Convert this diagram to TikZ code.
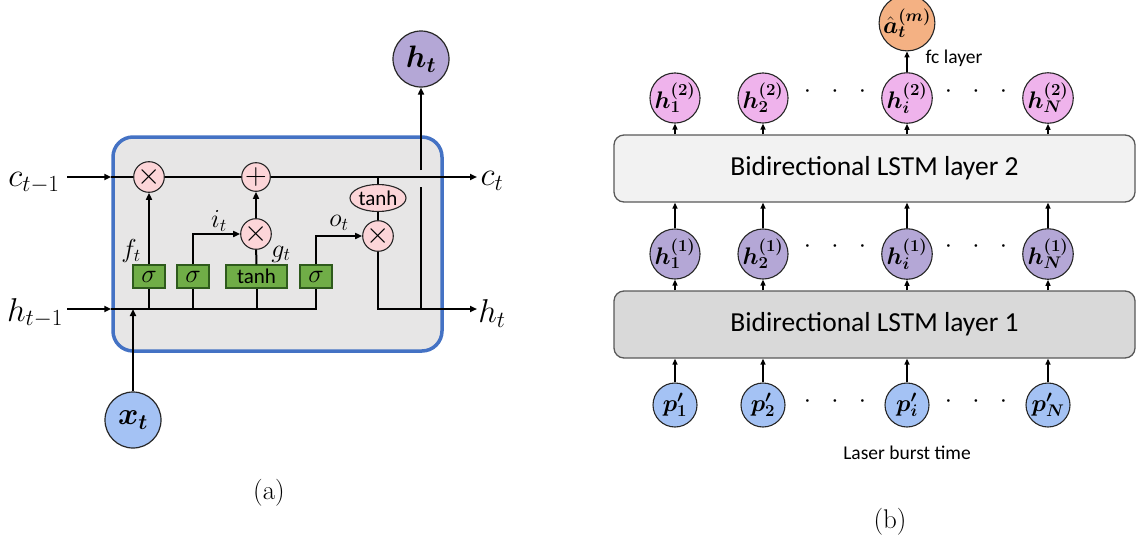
\RequirePackage{fix-cm}
\documentclass[tikz,border=0pt]{standalone}
\usepackage{fontspec}
\setsansfont{Carlito}
\usepackage{bm}
\usetikzlibrary{arrows.meta,shapes.geometric}

\definecolor{cellgray}{HTML}{E7E6E6}
\definecolor{cellblue}{HTML}{4472C4}
\definecolor{oppink}{HTML}{FCD5D8}
\definecolor{gategreen}{HTML}{70AD47}
\definecolor{gateedge}{HTML}{2E5A1C}
\definecolor{hpurple}{HTML}{B4A7D6}
\definecolor{xblue}{HTML}{A4C2F4}
\definecolor{hpink}{HTML}{EFB3EC}
\definecolor{aorange}{HTML}{F4B183}
\definecolor{layerlight}{HTML}{F2F2F2}
\definecolor{layerdark}{HTML}{D9D9D9}
\definecolor{layeredge}{HTML}{595959}

\begin{document}
\begin{tikzpicture}[x=1pt,y=-1pt,
  wire/.style={line width=2pt,draw=black},
  thinwire/.style={line width=1.4pt,draw=black},
  tip/.style={-{Triangle[length=7pt,width=6pt]}},
  smalltip/.style={-{Triangle[length=6pt,width=5pt]}},
  opnode/.style={circle,draw=black!85,line width=1.1pt,fill=oppink,minimum size=28pt,inner sep=0pt,font=\fontsize{30}{32}\selectfont},
  gate/.style={rectangle,draw=gateedge,line width=1.1pt,fill=gategreen,minimum height=23pt,minimum width=32pt,inner sep=0pt},
  sigtext/.style={font=\fontsize{26}{28}\selectfont},
  tanhtext/.style={font=\sffamily\fontsize{21}{23}\selectfont},
  bigstate/.style={circle,draw=black!85,line width=1.2pt,minimum size=56pt,inner sep=0pt,font=\fontsize{31}{34}\selectfont},
  sidelabel/.style={inner sep=0pt,font=\fontsize{33}{36}\selectfont},
  gatelabel/.style={inner sep=0pt,font=\fontsize{26}{28}\selectfont},
  unit/.style={circle,draw=black!85,line width=1.1pt,minimum size=44pt,inner sep=0pt,font=\fontsize{24}{26}\selectfont},
  layer/.style={rectangle,rounded corners=10pt,draw=layeredge,line width=1.3pt,minimum width=521pt,minimum height=67pt,font=\sffamily\fontsize{27.5}{30}\selectfont},
  dots/.style={inner sep=0pt,font=\fontsize{26}{28}\selectfont},
  note/.style={inner sep=0pt,font=\sffamily\fontsize{19.5}{22}\selectfont},
  caption/.style={inner sep=0pt,font=\fontsize{27}{30}\selectfont}]
\useasboundingbox (0,0) rectangle (1137,546);

% ---------------- LSTM cell ----------------
\node[rectangle,rounded corners=20pt,draw=cellblue,line width=3.5pt,fill=cellgray,
      minimum width=329pt,minimum height=214pt] (cell) at (277.5,244) {};

\coordinate (cin)  at (67,177);
\coordinate (hin)  at (67,309);
\coordinate (cout) at (477,177);
\coordinate (hout) at (477,309);

\node[opnode] (m1) at (149,177) {$\times$};
\node[opnode] (pl) at (256,177) {$+$};
\node[opnode] (m2) at (256,234) {$\times$};
\node[ellipse,draw=black!85,line width=1.1pt,fill=oppink,minimum width=56pt,minimum height=27pt,inner sep=0pt,tanhtext] (th) at (378,198) {tanh};
\node[opnode] (m3) at (378,236) {$\times$};

\node[gate,sigtext] (g1) at (149,276.5) {$\sigma$};
\node[gate,sigtext] (g2) at (193,276.5) {$\sigma$};
\node[gate,tanhtext,minimum width=61pt] (g3) at (256.5,276.5) {tanh};
\node[gate,sigtext] (g4) at (316,276.5) {$\sigma$};

\node[bigstate,fill=xblue] (xt) at (133,420) {$\bm{x_t}$};
\node[bigstate,fill=hpurple] (ht) at (421,59) {$\bm{h_t}$};

\coordinate (hjoin) at (421,309);
\coordinate (hlow)  at (421,187);
\coordinate (hhigh) at (421,170);

% cell state path
\draw[wire,tip] (cin) -- (cin -| cell.west);
\draw[wire] (cin -| cell.west) -- (m1);
\draw[wire] (m1) -- (pl);
\draw[wire,tip] (pl) -- (cout);
\draw[wire] (th |- cin) -- (th);
\draw[wire] (th) -- (m3);

% hidden state path
\draw[wire,tip] (hin) -- (hin -| cell.west);
\draw[wire] (hin -| cell.west) -- (hin -| g4) -- (g4);
\draw[wire] (hin -| g1) -- (g1);
\draw[wire] (hin -| g2) -- (g2);
\draw[wire] (hin -| g3) -- (g3);
\draw[wire,tip] (xt) -- (xt |- hin);

% gates
\draw[wire,tip] (g1) -- (m1);
\draw[wire,tip] (g2.north) |- (m2);
\draw[wire] (g3) -- (m2);
\draw[wire,tip] (m2) -- (pl);
\draw[wire,tip] (g4.north) |- (m3);

% output
\draw[wire,tip] (m3) |- (hout);
\draw[wire] (hjoin) -- (hlow);
\draw[wire,tip] (hhigh) -- (ht);

% labels
\node[sidelabel] (lcin)  at (34,183)  {$c_{t-1}$};
\node[sidelabel] (lhin)  at (35,313)  {$h_{t-1}$};
\node[sidelabel] (lcout) at (492,181) {$c_t$};
\node[sidelabel] (lhout) at (492,314) {$h_t$};
\node[gatelabel] (lf) at (131,251) {$f_t$};
\node[gatelabel] (li) at (219,221) {$i_t$};
\node[gatelabel] (lg) at (281,254) {$g_t$};
\node[gatelabel] (lo) at (339,223) {$o_t$};

\node[caption] (capa) at (269,493) {(a)};

% ---------------- Stacked bidirectional LSTM ----------------
\node[layer,fill=layerlight] (l2) at (874.5,168.5) {Bidirectional LSTM layer 2};
\node[layer,fill=layerdark]  (l1) at (874.5,324.5) {Bidirectional LSTM layer 1};

\foreach \n/\x/\s in {1/675/1,2/763/2,i/907/i,N/1048/N}{
  \node[unit,fill=hpink]   (u2\n) at (\x,98)  {$\bm{h_{\s}^{(2)}}$};
  \node[unit,fill=hpurple] (u1\n) at (\x,254) {$\bm{h_{\s}^{(1)}}$};
  \node[unit,fill=xblue]   (p\n)  at (\x,405) {$\bm{p'_{\s}}$};
  \draw[thinwire,smalltip] (p\n) -- (p\n |- l1.south);
  \draw[thinwire,smalltip] (u1\n |- l1.north) -- (u1\n);
  \draw[thinwire,smalltip] (u1\n) -- (u1\n |- l2.south);
  \draw[thinwire,smalltip] (u2\n |- l2.north) -- (u2\n);
}

\node[unit,fill=aorange,minimum size=42pt] (out) at (907,23) {$\bm{\hat{a}_t^{(m)}}$};
\draw[thinwire,smalltip] (u2i) -- (out);
\node[note] (fc) at (954,58) {fc layer};

\foreach \y/\k in {92/a,247/b,402/c}{
  \node[dots] (dl\k) at (835,\y) {$\cdot\mkern10mu\cdot\mkern10mu\cdot$};
  \node[dots] (dr\k) at (976,\y) {$\cdot\mkern10mu\cdot\mkern10mu\cdot$};
}

\node[note] (laser) at (907,453) {Laser burst time};
\node[caption] (capb) at (890,522) {(b)};
\end{tikzpicture}
\end{document}
